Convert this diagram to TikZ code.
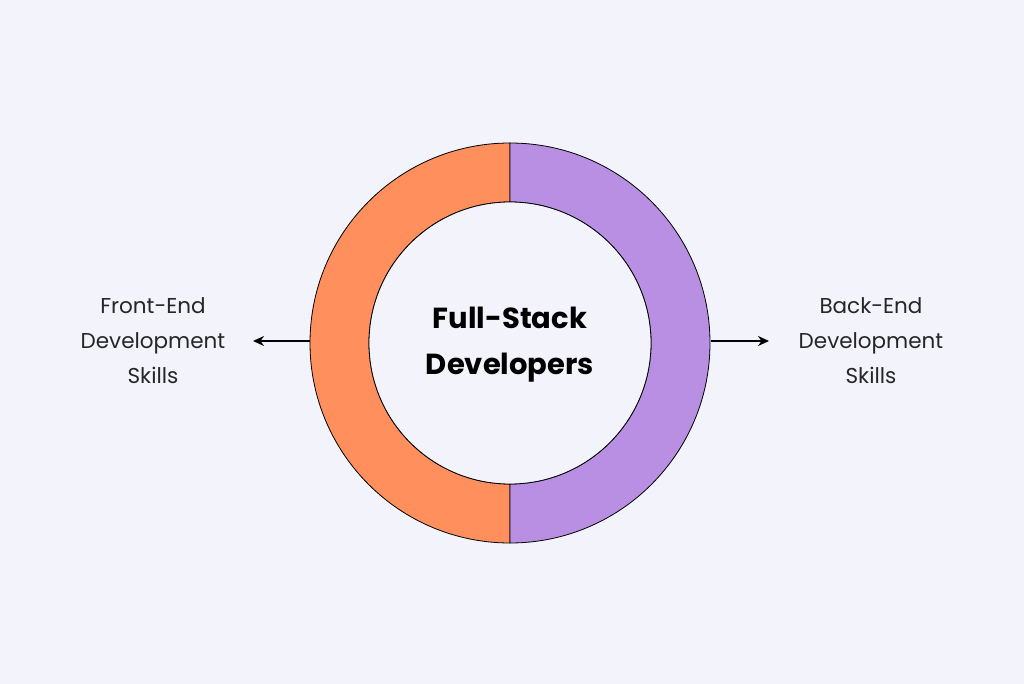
\documentclass[tikz,border=0pt]{standalone}
\usepackage{fontspec}
\setmainfont{Poppins}
\usetikzlibrary{arrows.meta}
\definecolor{bg}{HTML}{F3F3FC}
\definecolor{fe}{HTML}{FF8F5C}
\definecolor{be}{HTML}{B98FE3}
\tikzset{lbl/.style={align=center,font=\fontsize{21.5}{35}\selectfont,text=black!85},
arr/.style={-{Stealth[length=11pt,width=10pt]},line width=2pt}}
\begin{document}
\begin{tikzpicture}[x=1pt,y=-1pt]
\fill[bg] (0,0) rectangle (1024,684);
\useasboundingbox (0,0) rectangle (1024,684);
\coordinate (c) at (510,343);
\fill[fe,draw=black,line width=0.8pt] (510,143) arc[start angle=-90,end angle=-270,radius=200] -- (510,484) arc[start angle=90,end angle=270,radius=141] -- cycle;
\fill[be,draw=black,line width=0.8pt] (510,143) arc[start angle=-90,end angle=90,radius=200] -- (510,484) arc[start angle=90,end angle=-90,radius=141] -- cycle;
\fill[bg,draw=black,line width=0.8pt] (c) circle[radius=141];
\node[font=\fontsize{29}{46}\selectfont\bfseries,align=center] (t) at (510,345) {Full-Stack\\Developers};
\coordinate (l1) at (310,341); \coordinate (l2) at (253,341);
\coordinate (r1) at (711,341); \coordinate (r2) at (769,341);
\draw[arr] (l1) -- (l2);
\draw[arr] (r1) -- (r2);
\node[lbl] (fl) at (153,341) {Front-End\\Development\\Skills};
\node[lbl] (bl) at (871,341) {Back-End\\Development\\Skills};
\end{tikzpicture}
\end{document}
